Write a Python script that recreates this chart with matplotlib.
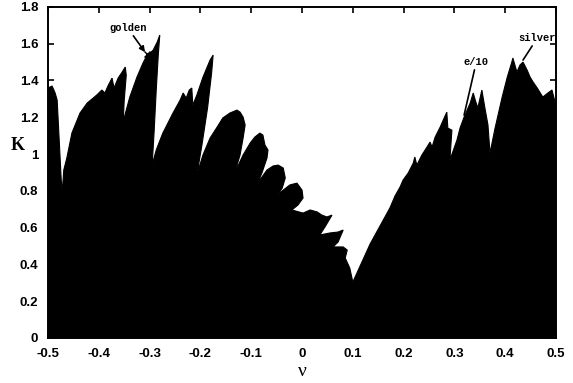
import matplotlib
matplotlib.use("Agg")
import matplotlib.pyplot as plt

# boundary of the black region (nu, K)
nu = [-0.500, -0.492, -0.486, -0.482, -0.478, -0.474, -0.472, -0.469, -0.463, -0.453,
      -0.437, -0.423, -0.404, -0.394, -0.388, -0.382, -0.374, -0.370, -0.362, -0.354,
      -0.348, -0.346, -0.350, -0.352, -0.346, -0.339, -0.325, -0.313, -0.305, -0.299,
      -0.293, -0.285, -0.280, -0.283, -0.287, -0.291, -0.295, -0.287, -0.274, -0.254,
      -0.240, -0.234, -0.228, -0.222, -0.217, -0.215, -0.207, -0.195, -0.181, -0.175,
      -0.178, -0.186, -0.197, -0.207,
      -0.195, -0.181, -0.167, -0.156, -0.142, -0.128, -0.122, -0.116, -0.112, -0.116,
      -0.122, -0.132, -0.142,
      -0.128, -0.116, -0.102, -0.093, -0.083, -0.077, -0.073, -0.067, -0.069, -0.079,
      -0.089, -0.098,
      -0.083, -0.069, -0.057, -0.047, -0.037, -0.033, -0.039, -0.049,
      -0.037, -0.024, -0.010, 0.000, 0.002, -0.008, -0.020,
      0.002, 0.016, 0.030, 0.039, 0.049, 0.059, 0.045, 0.035,
      0.055, 0.071, 0.081, 0.071, 0.061,
      0.081, 0.089, 0.085, 0.094, 0.100,
      0.134, 0.173,
      0.183, 0.193, 0.199, 0.209, 0.219, 0.222, 0.226, 0.236, 0.246, 0.252,
      0.256, 0.262, 0.272, 0.278, 0.285, 0.287, 0.295, 0.291, 0.305, 0.311,
      0.319, 0.331, 0.337, 0.341, 0.346, 0.354, 0.360, 0.366, 0.370, 0.380,
      0.394, 0.404, 0.413, 0.415, 0.423, 0.429, 0.435, 0.443, 0.449, 0.455,
      0.463, 0.469, 0.474, 0.484, 0.492, 0.498, 0.500]
K = [1.359, 1.370, 1.332, 1.293, 1.076, 0.859, 0.793, 0.913, 0.978, 1.114,
     1.223, 1.277, 1.321, 1.348, 1.332, 1.370, 1.413, 1.359, 1.413, 1.446,
     1.473, 1.429, 1.293, 1.174, 1.239, 1.310, 1.418, 1.495, 1.538, 1.549,
     1.565, 1.609, 1.647, 1.538, 1.348, 1.130, 0.940, 1.022, 1.114, 1.223,
     1.293, 1.332, 1.304, 1.348, 1.359, 1.266, 1.321, 1.418, 1.511, 1.538,
     1.440, 1.250, 1.050, 0.886,
     0.995, 1.087, 1.147, 1.196, 1.223, 1.239, 1.228, 1.201, 1.158, 1.087,
     0.995, 0.902, 0.842,
     0.924, 0.995, 1.060, 1.092, 1.114, 1.103, 1.049, 1.022, 0.978, 0.897,
     0.832, 0.777,
     0.859, 0.913, 0.935, 0.940, 0.924, 0.870, 0.815, 0.777,
     0.804, 0.832, 0.842, 0.804, 0.761, 0.723, 0.696,
     0.679, 0.696, 0.685, 0.668, 0.658, 0.668, 0.603, 0.560,
     0.571, 0.576, 0.587, 0.522, 0.495,
     0.495, 0.478, 0.435, 0.380, 0.304,
     0.511, 0.707,
     0.772, 0.821, 0.859, 0.897, 0.951, 0.984, 0.940, 0.995, 1.038, 1.065,
     1.038, 1.092, 1.147, 1.185, 1.228, 1.141, 1.130, 0.967, 1.076, 1.141,
     1.201, 1.277, 1.332, 1.293, 1.250, 1.348, 1.250, 1.158, 1.005, 1.141,
     1.310, 1.418, 1.500, 1.522, 1.446, 1.484, 1.500, 1.457, 1.418, 1.391,
     1.359, 1.332, 1.310, 1.332, 1.348, 1.283, 1.266]

xticks = [-0.5, -0.4, -0.3, -0.2, -0.1, 0, 0.1, 0.2, 0.3, 0.4, 0.5]
xticklabels = ["-0.5", "-0.4", "-0.3", "-0.2", "-0.1", "0", "0.1", "0.2", "0.3", "0.4", "0.5"]
yticks = [0, 0.2, 0.4, 0.6, 0.8, 1.0, 1.2, 1.4, 1.6, 1.8]
yticklabels = ["0", "0.2", "0.4", "0.6", "0.8", "1", "1.2", "1.4", "1.6", "1.8"]

fig = plt.figure(figsize=(5.73, 3.83), dpi=100)
ax = fig.add_axes([0.0838, 0.1175, 0.8866, 0.8645])

ax.fill(nu + [0.5, -0.5], K + [0, 0], color="black", lw=0.8, edgecolor="black")

ax.set_xlim(-0.5, 0.5)
ax.set_ylim(0, 1.8)
ax.set_xticks(xticks)
ax.set_xticklabels(xticklabels)
ax.set_yticks(yticks)
ax.set_yticklabels(yticklabels)
ax.tick_params(direction="in", length=4, width=1.2, top=True, right=True,
               labelsize=9.5, pad=7)
for lab in ax.get_xticklabels() + ax.get_yticklabels():
    lab.set_family("Liberation Sans")
    lab.set_fontweight("bold")
for s in ax.spines.values():
    s.set_linewidth(1.4)

ax.set_ylabel("K", rotation=0, family="Liberation Serif", fontsize=13, fontweight="bold")
ax.yaxis.set_label_coords(-0.059, 1.0 / 1.8)
ax.set_xlabel("ν", family="Liberation Serif", fontsize=14)
ax.xaxis.set_label_coords(0.5, -0.075)

mono = dict(family="Liberation Mono", fontsize=7.5, fontweight="bold", ha="center", va="center")
arrow = dict(arrowstyle="-|>", color="black", lw=1.2, mutation_scale=8, shrinkA=0, shrinkB=0)
ax.annotate("golden", xy=(-0.309, 1.554), xytext=(-0.343, 1.685), arrowprops=arrow, **mono)
ax.plot([-0.305], [1.543], marker="x", color="black", ms=4, mew=1)
ax.annotate("e/10", xy=(0.319, 1.212), xytext=(0.343, 1.50), arrowprops=dict(arrow, arrowstyle="-"), **mono)
ax.annotate("silver", xy=(0.435, 1.511), xytext=(0.463, 1.630), arrowprops=dict(arrow, arrowstyle="-"), **mono)

fig.savefig("out.png", dpi=100)
